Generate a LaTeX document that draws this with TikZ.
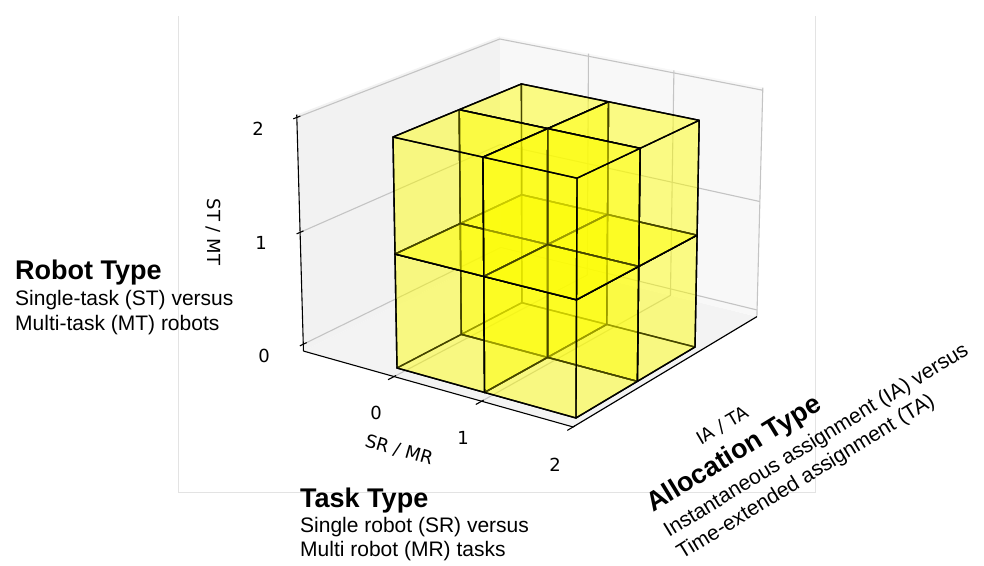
\documentclass[tikz,border=0pt]{standalone}
\usepackage{fontspec}
\setmainfont{Liberation Sans}
\newfontfamily\dejavu{DejaVu Sans}
\definecolor{paneL}{HTML}{F2F2F2}
\definecolor{paneR}{HTML}{F8F8F8}
\definecolor{paneF}{HTML}{F3F3F3}
\definecolor{gridc}{HTML}{C4C4C4}
\definecolor{framec}{HTML}{E3E3E3}
\definecolor{voxc}{HTML}{FFFF00}
% perspective projection of data point (x,y,z) -> named coordinate
\newcommand{\mkpt}[4]{%
  \pgfmathsetmacro{\mkD}{1+(#2)*(-0.02075)+(#3)*0.03125+(#4)*(-0.0135)}%
  \pgfmathsetmacro{\mkX}{(397+(#2)*77.55+(#3)*78.75+(#4)*(-7.295))/\mkD}%
  \pgfmathsetmacro{\mkY}{(368+(#2)*16.325+(#3)*(-23.18)+(#4)*(-117.345))/\mkD}%
  \coordinate (#1) at (\mkX,\mkY);}
\newcommand{\voxel}[3]{%
  \pgfmathtruncatemacro{\ia}{#1+1}\pgfmathtruncatemacro{\ja}{#2+1}\pgfmathtruncatemacro{\ka}{#3+1}%
  \filldraw[vface] (g#1#2#3) -- (g#1\ja#3) -- (g#1\ja\ka) -- (g#1#2\ka) -- cycle;
  \filldraw[vface] (g#1\ja#3) -- (g\ia\ja#3) -- (g\ia\ja\ka) -- (g#1\ja\ka) -- cycle;
  \filldraw[vface] (g#1#2#3) -- (g\ia#2#3) -- (g\ia\ja#3) -- (g#1\ja#3) -- cycle;
  \filldraw[vface] (g\ia#2#3) -- (g\ia\ja#3) -- (g\ia\ja\ka) -- (g\ia#2\ka) -- cycle;
  \filldraw[vface] (g#1#2#3) -- (g\ia#2#3) -- (g\ia#2\ka) -- (g#1#2\ka) -- cycle;
  \filldraw[vface] (g#1#2\ka) -- (g\ia#2\ka) -- (g\ia\ja\ka) -- (g#1\ja\ka) -- cycle;
}
\def\xmn{-1.08}\def\xmx{2}\def\ymn{-0.046}\def\ymx{3.15}\def\zmn{-0.062}\def\zmx{2.024}
\begin{document}
\begin{tikzpicture}[x=1pt,y=-1pt,
  vface/.style={fill=voxc, fill opacity=0.27, draw=black, line width=1.4pt, line join=round},
  gridline/.style={draw=gridc, line width=1.1pt},
  axisline/.style={draw=black, line width=1.1pt},
  tickmark/.style={draw=black, line width=1.1pt},
  ticklab/.style={font=\dejavu\fontsize{18}{18}\selectfont, inner sep=0pt},
  ttl/.style={font=\fontsize{27}{30}\selectfont\bfseries, inner sep=0pt, anchor=base west},
  dsc/.style={font=\fontsize{21}{24}\selectfont, inner sep=0pt, anchor=base west},
  framel/.style={draw=framec, line width=1pt}]
\useasboundingbox (0,0) rectangle (984,565);
% outer frame
\coordinate (fTL) at (178,16);
\coordinate (fBL) at (178,492);
\coordinate (fBR) at (815,492);
\coordinate (fTR) at (815,16);
\draw[framel] (fTL) -- (fBL) -- (fBR) -- (fTR);
% box corners
\mkpt{L0}{\xmn}{\ymn}{\zmn}
\mkpt{F0}{\xmx}{\ymn}{\zmn}
\mkpt{R0}{\xmx}{\ymx}{\zmn}
\mkpt{B0}{\xmn}{\ymx}{\zmn}
\mkpt{L1}{\xmn}{\ymn}{\zmx}
\mkpt{R1}{\xmx}{\ymx}{\zmx}
\mkpt{B1}{\xmn}{\ymx}{\zmx}
% panes
\fill[paneF] (L0) -- (F0) -- (R0) -- (B0) -- cycle;
\fill[paneL] (L0) -- (B0) -- (B1) -- (L1) -- cycle;
\fill[paneR] (B0) -- (R0) -- (R1) -- (B1) -- cycle;
% grid
\foreach \z in {0,1,2} {
  \mkpt{zl\z}{\xmn}{\ymn}{\z}
  \mkpt{zb\z}{\xmn}{\ymx}{\z}
  \mkpt{zr\z}{\xmx}{\ymx}{\z}
  \draw[gridline] (zl\z) -- (zb\z) -- (zr\z);
}
\foreach \x in {0,1,2} {
  \mkpt{xf\x}{\x}{\ymn}{\zmn}
  \mkpt{xb\x}{\x}{\ymx}{\zmn}
  \mkpt{xt\x}{\x}{\ymx}{\zmx}
  \draw[gridline] (xf\x) -- (xb\x) -- (xt\x);
}
% axis lines
\draw[axisline] (L0) -- (F0) -- (R0);
\draw[axisline] (L0) -- (L1);
% ticks
\foreach \x in {0,1,2} {
  \mkpt{xta\x}{\x}{\ymn+0.03}{\zmn}
  \mkpt{xtb\x}{\x}{\ymn-0.09}{\zmn}
  \draw[tickmark] (xta\x) -- (xtb\x);
}
\foreach \z in {0,1,2} {
  \mkpt{zta\z}{\xmn}{\ymn-0.05}{\z}
  \mkpt{ztb\z}{\xmn}{\ymn+0.05}{\z}
  \draw[tickmark] (zta\z) -- (ztb\z);
}
% voxel grid points
\foreach \i in {0,1,2} {\foreach \j in {0,1,2} {\foreach \k in {0,1,2} {
  \mkpt{g\i\j\k}{\i}{\j}{\k}
}}}
% voxels back to front
\voxel{0}{1}{0}
\voxel{0}{1}{1}
\voxel{1}{1}{0}
\voxel{0}{0}{0}
\voxel{1}{1}{1}
\voxel{0}{0}{1}
\voxel{1}{0}{0}
\voxel{1}{0}{1}
% tick labels
\node[ticklab] (zl0lab) at (264,356) {0};
\node[ticklab] (zl1lab) at (261,243) {1};
\node[ticklab] (zl2lab) at (258,129) {2};
\node[ticklab] (xl0lab) at (376,413) {0};
\node[ticklab] (xl1lab) at (463,438) {1};
\node[ticklab] (xl2lab) at (555,465) {2};
\node[ticklab, rotate=-16] (xlab) at (399,450) {SR / MR};
\node[ticklab, rotate=-90] (zlab) at (213,232) {ST / MT};
\node[ticklab, rotate=30.5] (ylab) at (723,426) {IA / TA};
% descriptions
\node[ttl] (rtT) at (15,279) {Robot Type};
\node[dsc] (rt1) at (15,305) {Single-task (ST) versus};
\node[dsc] (rt2) at (15,330) {Multi-task (MT) robots};
\node[ttl] (ttT) at (300,507) {Task Type};
\node[dsc] (tt1) at (300,532) {Single robot (SR) versus};
\node[dsc] (tt2) at (300,556) {Multi robot (MR) tasks};
\node[ttl, rotate=31.5] (atT) at (653,513) {Allocation Type};
\node[dsc, rotate=31.5] (at1) at (669,538) {Instantaneous assignment (IA) versus};
\node[dsc, rotate=31.5] (at2) at (682,560) {Time-extended assignment (TA)};
\end{tikzpicture}
\end{document}
